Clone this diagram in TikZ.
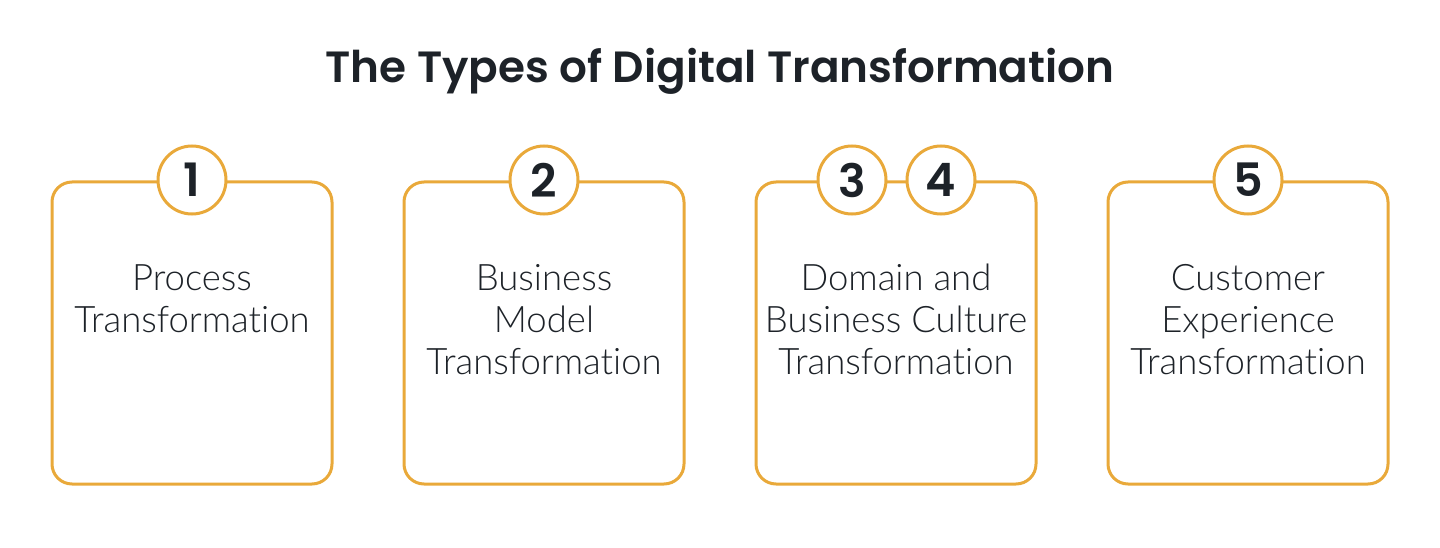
\documentclass[tikz,border=0pt]{standalone}
\usepackage{fontspec}
\setmainfont{Lato}[UprightFont=* Light, BoldFont=* Bold, Ligatures=NoCommon]
\newfontfamily\headfont{Poppins}[UprightFont=* SemiBold]
\definecolor{accent}{HTML}{E9A93A}
\definecolor{ink}{HTML}{1D2228}
\tikzset{
  card/.style={draw=accent, line width=3pt, rounded corners=20pt, fill=white},
  badge/.style={circle, draw=accent, line width=3pt, fill=white, minimum size=68pt, inner sep=0pt, text=ink, font=\fontsize{46}{46}\headfont},
  label/.style={align=center, anchor=base, inner sep=0pt, text=ink, font=\fontsize{36.5}{42}\selectfont},
  heading/.style={anchor=base, inner sep=0pt, text=ink, font=\fontsize{43.7}{44}\headfont}
}
\begin{document}
\begin{tikzpicture}[x=1pt,y=1pt]
\useasboundingbox (0,0) rectangle (1440,-548);
\node[heading] (title) at (720,-83) {The Types of Digital Transformation};
\draw[card] (52,-182) rectangle (332,-484);
\draw[card] (404,-182) rectangle (684,-484);
\draw[card] (756,-182) rectangle (1036,-484);
\draw[card] (1108,-182) rectangle (1388,-484);
\node[badge] (b1) at (192,-180) {1};
\node[badge] (b2) at (544,-180) {2};
\node[badge] (b3) at (852,-180) {3};
\node[badge] (b4) at (941,-180) {4};
\node[badge] (b5) at (1248,-180) {5};
\node[label] (t1) at (192,-332) {Process\\Transformation};
\node[label] (t2) at (544,-374) {Business\\Model\\Transformation};
\node[label] (t3) at (896,-374) {Domain and\\Business Culture\\Transformation};
\node[label] (t4) at (1248,-374) {Customer\\Experience\\Transformation};
\end{tikzpicture}
\end{document}
